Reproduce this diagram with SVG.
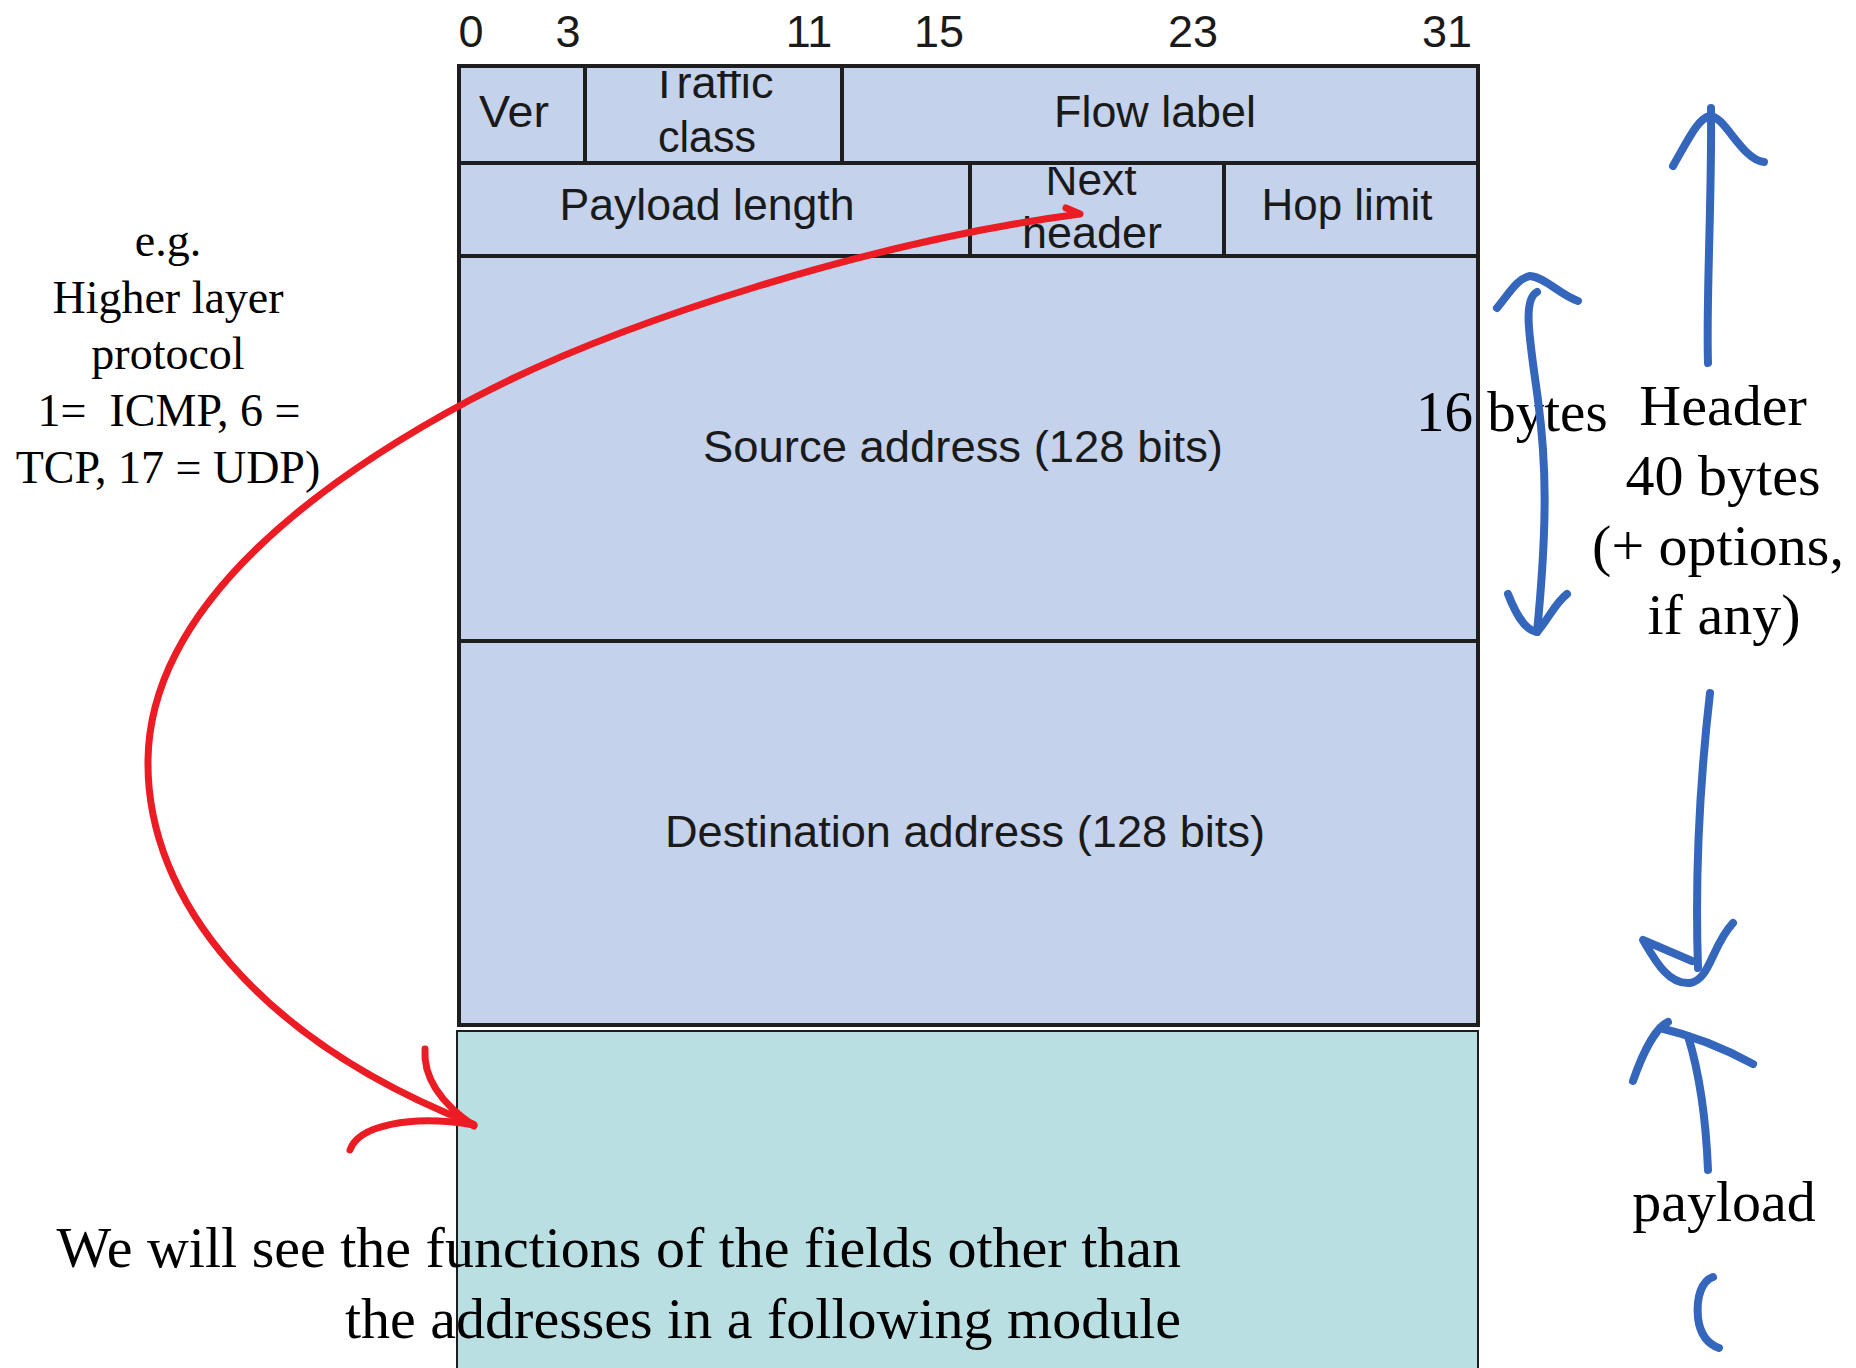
<svg xmlns="http://www.w3.org/2000/svg" width="1856" height="1368" viewBox="0 0 1856 1368">
<style>
.hdr{fill:#C4D2EB;stroke:#1E1E1E;stroke-width:4}
.pl{fill:#BADFE2;stroke:#1E1E1E;stroke-width:2}
.lab{font-family:"Liberation Sans",Arial,sans-serif;font-size:45px;fill:#1A1A1A;text-anchor:middle}
.ann{font-family:"Liberation Serif","Times New Roman",serif;fill:#000}
.red{fill:none;stroke:#EC1C24;stroke-width:7;stroke-linecap:round;stroke-linejoin:round}
.blue{fill:none;stroke:#3466BC;stroke-width:8;stroke-linecap:round;stroke-linejoin:round}
</style>
<defs>
<clipPath id="cTraffic"><rect x="587" y="71" width="253" height="90"/></clipPath>
<clipPath id="cNext"><rect x="972" y="167" width="250" height="87"/></clipPath>
</defs>
<rect width="1856" height="1368" fill="#fff"/>

<g id="bit-numbers" class="lab">
<text x="471" y="47">0</text>
<text x="568" y="47">3</text>
<text x="809" y="47">11</text>
<text x="939" y="47">15</text>
<text x="1193" y="47">23</text>
<text x="1447" y="47">31</text>
</g>

<g id="ver"><rect class="hdr" x="459" y="66" width="126" height="97"/><text class="lab" x="514" y="127" textLength="70" lengthAdjust="spacingAndGlyphs">Ver</text></g>
<g id="traffic-class"><rect class="hdr" x="585" y="66" width="257" height="97"/>
<g clip-path="url(#cTraffic)"><text class="lab" x="712" y="98" textLength="123" lengthAdjust="spacingAndGlyphs">Traffic</text>
<text class="lab" x="707" y="152" textLength="98" lengthAdjust="spacingAndGlyphs">class</text></g></g>
<g id="flow-label"><rect class="hdr" x="842" y="66" width="636" height="97"/><text class="lab" x="1155" y="127" textLength="202" lengthAdjust="spacingAndGlyphs">Flow label</text></g>
<g id="payload-length"><rect class="hdr" x="459" y="163" width="511" height="93"/><text class="lab" x="707" y="220" textLength="295" lengthAdjust="spacingAndGlyphs">Payload length</text></g>
<g id="next-header"><rect class="hdr" x="970" y="163" width="254" height="93"/>
<g clip-path="url(#cNext)"><text class="lab" x="1091" y="195" textLength="91" lengthAdjust="spacingAndGlyphs">Next</text>
<text class="lab" x="1092" y="248" textLength="140" lengthAdjust="spacingAndGlyphs">header</text></g></g>
<g id="hop-limit"><rect class="hdr" x="1224" y="163" width="254" height="93"/><text class="lab" x="1347" y="220" textLength="171" lengthAdjust="spacingAndGlyphs">Hop limit</text></g>
<g id="source-address"><rect class="hdr" x="459" y="256" width="1019" height="385"/><text class="lab" x="963" y="462" textLength="520" lengthAdjust="spacingAndGlyphs">Source address (128 bits)</text></g>
<g id="destination-address"><rect class="hdr" x="459" y="641" width="1019" height="384"/><text class="lab" x="965" y="847" textLength="600" lengthAdjust="spacingAndGlyphs">Destination address (128 bits)</text></g>
<g id="payload"><rect class="pl" x="457" y="1031" width="1021" height="345"/></g>

<g id="note-left" class="ann" font-size="46" text-anchor="middle">
<text x="168" y="256">e.g.</text>
<text x="168" y="313">Higher layer</text>
<text x="168" y="369">protocol</text>
<text x="169" y="426" xml:space="preserve">1=  ICMP, 6 =</text>
<text x="168" y="483">TCP, 17 = UDP)</text>
</g>

<g id="note-16bytes" class="ann" font-size="57"><text x="1416" y="431">16 bytes</text></g>
<g id="note-header" class="ann" font-size="58" text-anchor="middle">
<text x="1723" y="425">Header</text>
<text x="1723" y="495">40 bytes</text>
<text x="1718" y="565">(+ options,</text>
<text x="1724" y="634">if any)</text>
</g>
<g id="note-payload" class="ann" font-size="58" text-anchor="middle"><text x="1724" y="1221">payload</text></g>
<g id="note-bottom" class="ann" font-size="58" text-anchor="end">
<text x="1181" y="1267">We will see the functions of the fields other than</text>
<text x="1181" y="1338">the addresses in a following module</text>
</g>

<g id="connectors">
<path class="red" d="M 1066 208 L 1080 214 C 880 240, 620 320, 470 400 C 330 475, 150 600, 148 760 C 146 900, 260 1040, 473 1124"/>
<path class="red" d="M 425 1049 C 423 1078, 442 1104, 474 1126"/>
<path class="red" d="M 350 1150 C 358 1126, 410 1114, 474 1125"/>

<path class="blue" d="M 1537 292 C 1522 300, 1530 340, 1538 400 C 1546 460, 1548 520, 1537 632"/>
<path class="blue" d="M 1497 308 C 1510 292, 1518 278, 1530 276 C 1545 277, 1560 295, 1578 301"/>
<path class="blue" d="M 1508 594 C 1515 612, 1524 630, 1537 632 C 1548 620, 1555 603, 1567 594"/>

<path class="blue" d="M 1708 363 C 1706 300, 1712 200, 1711 108"/>
<path class="blue" d="M 1673 166 C 1688 140, 1698 118, 1710 116 C 1725 116, 1742 160, 1764 162"/>

<path class="blue" d="M 1710 693 C 1700 780, 1695 880, 1698 968"/>
<path class="blue" d="M 1692 961 L 1643 940 C 1655 960, 1668 985, 1690 983 C 1710 980, 1712 945, 1733 923"/>

<path class="blue" d="M 1708 1170 C 1706 1120, 1700 1075, 1688 1036"/>
<path class="blue" d="M 1633 1081 C 1642 1055, 1655 1028, 1668 1022 M 1660 1028 C 1690 1035, 1720 1046, 1753 1064"/>

<path class="blue" d="M 1713 1277 C 1702 1281, 1696 1296, 1698 1318 C 1700 1334, 1708 1344, 1719 1348"/>
</g>
</svg>
